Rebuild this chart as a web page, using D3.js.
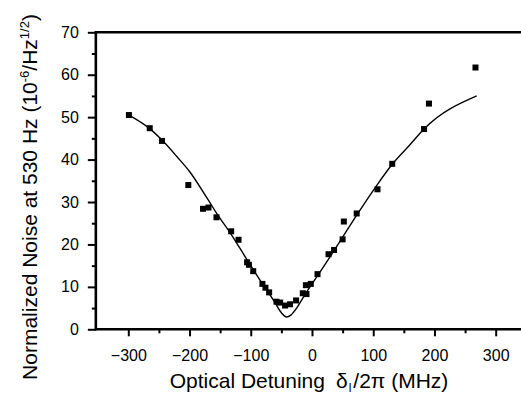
<!DOCTYPE html>
<html lang="en">
<head>
    <meta charset="UTF-8">
    <script src="https://d3js.org/d3.v7.min.js"></script>
    <title>Noise vs detuning</title>
    <style>
        body { margin: 0; background: #fff; }
        text { font-family: "Liberation Sans", Arial, Helvetica, sans-serif; fill: #000; }
    </style>
</head>
<body>
    <script>
        // measured points (detuning MHz, noise 10^-6/Hz^1/2)
        var detuning = [-299, -265, -245, -202, -178, -169, -156, -132, -120, -106, -103, -96,
            -81, -76, -70, -58, -52, -44, -36, -26, -15, -9, -10, -2, 9, 27, 36, 50, 52, 73,
            107, 131, 183, 191, 267];
        var noise = [50.5, 47.4, 44.4, 34.0, 28.4, 28.7, 26.4, 23.1, 21.1, 15.8, 15.2, 13.7,
            10.7, 9.8, 8.7, 6.5, 6.3, 5.6, 5.9, 6.8, 8.5, 8.3, 10.4, 10.7, 13.0, 17.7, 18.7, 21.2, 25.4, 27.3,
            33.0, 39.0, 47.2, 53.2, 61.7];

        // fitted curve
        var fitX = [-299, -265, -245, -220, -200, -170, -156, -132, -107, -85, -63, -50, -42,
            -34, -25, -14, 8, 35, 73, 111, 131, 160, 183, 269];
        var fitY = [50.5, 47.3, 44.6, 40.6, 37.2, 30.6, 27.4, 22.4, 16.6, 11.6, 6.9, 3.9, 2.9,
            3.4, 5.0, 7.6, 12.4, 18.3, 26.9, 35.0, 38.9, 43.5, 47.2, 55.0];

        var xMajor = [-300, -200, -100, 0, 100, 200, 300];
        var xMinor = [-250, -150, -50, 50, 150, 250];
        var yMajor = [0, 10, 20, 30, 40, 50, 60, 70];
        var yMinor = [5, 15, 25, 35, 45, 55, 65];

        var width = 521, height = 396;
        var xStart = -353, xEnd = 345;

        var svg = d3.select("body").append("svg")
            .attr("width", width)
            .attr("height", height);

        var x = d3.scaleLinear().domain([-300, 300]).range([128.3, 495.7]);
        var y = d3.scaleLinear().domain([0, 70]).range([329.3, 32.3]);

        // x axis
        var gx = svg.append("g").attr("transform", "translate(0," + y(0) + ")");
        gx.call(d3.axisBottom(x).tickValues(xMajor).tickSize(7).tickPadding(13)
            .tickFormat(d3.format("d")));
        var gxm = svg.append("g").attr("transform", "translate(0," + y(0) + ")");
        gxm.call(d3.axisBottom(x).tickValues(xMinor).tickSize(4).tickFormat(""));

        // y axis
        var gy = svg.append("g").attr("transform", "translate(" + x(xStart) + ",0)");
        gy.call(d3.axisLeft(y).tickValues(yMajor).tickSize(8).tickPadding(9));
        var gym = svg.append("g").attr("transform", "translate(" + x(xStart) + ",0)");
        gym.call(d3.axisLeft(y).tickValues(yMinor).tickSize(4).tickFormat(""));

        svg.selectAll(".domain").remove();
        svg.selectAll(".tick line").attr("stroke", "#000").attr("stroke-width", 2);
        svg.selectAll(".tick text").attr("font-size", 16)
            .attr("font-family", "'Liberation Sans', Arial, sans-serif");

        // frame lines: left, bottom, top
        svg.append("line")
            .attr("x1", x(xStart)).attr("x2", x(xStart))
            .attr("y1", y(70) - 1).attr("y2", y(0) + 1)
            .attr("stroke", "#000").attr("stroke-width", 2.6);
        svg.append("line")
            .attr("x1", x(xStart) - 1).attr("x2", x(xEnd))
            .attr("y1", y(0)).attr("y2", y(0))
            .attr("stroke", "#000").attr("stroke-width", 2.6);
        svg.append("line")
            .attr("x1", x(xStart) - 1).attr("x2", x(xEnd))
            .attr("y1", y(70)).attr("y2", y(70))
            .attr("stroke", "#000").attr("stroke-width", 2.6);

        // fit line
        var line = d3.line()
            .x(function(d, i) { return x(fitX[i]); })
            .y(function(d, i) { return y(fitY[i]); })
            .curve(d3.curveMonotoneX);
        svg.append("path")
            .datum(fitX)
            .attr("d", line)
            .attr("fill", "none")
            .attr("stroke", "#000")
            .attr("stroke-width", 1.4);

        // data squares
        var s = 6;
        svg.selectAll("rect.pt")
            .data(detuning)
            .enter()
            .append("rect")
            .attr("class", "pt")
            .attr("x", function(d) { return x(d) - s / 2; })
            .attr("y", function(d, i) { return y(noise[i]) - s / 2; })
            .attr("width", s)
            .attr("height", s)
            .attr("fill", "#000");

        // axis titles
        var xt = svg.append("text")
            .attr("x", 309)
            .attr("y", 388)
            .attr("text-anchor", "middle")
            .attr("font-size", 21);
        xt.append("tspan").text("Optical Detuning");
        xt.append("tspan").attr("dx", 11).text("δ");
        xt.append("tspan").attr("font-size", 12).attr("dy", 4).attr("dx", 1).text("l");
        xt.append("tspan").attr("dy", -4).attr("dx", 2).text("/2π (MHz)");

        var yt = svg.append("text")
            .attr("transform", "translate(37,197) rotate(-90)")
            .attr("text-anchor", "middle")
            .attr("font-size", 21);
        yt.append("tspan").text("Normalized Noise at 530 Hz (10");
        yt.append("tspan").attr("font-size", 13).attr("dy", -8).text("-6");
        yt.append("tspan").attr("dy", 8).text("/Hz");
        yt.append("tspan").attr("font-size", 13).attr("dy", -8).text("1/2");
        yt.append("tspan").attr("dy", 8).text(")");
    </script>
</body>
</html>
